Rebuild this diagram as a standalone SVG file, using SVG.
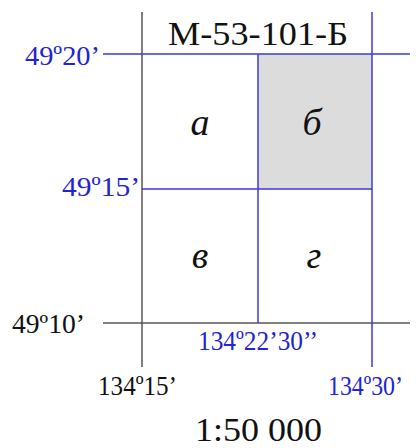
<svg xmlns="http://www.w3.org/2000/svg" width="416" height="448" viewBox="0 0 416 448">
<style>
text{font-family:"Liberation Serif","Times New Roman","DejaVu Serif",serif;}
.b{fill:#2323d0;}
.k{fill:#111;}
.bl{stroke:#3a3ae0;stroke-width:1.5;fill:none;}
.gl{stroke:#555;stroke-width:1.5;fill:none;}
.cell{font-style:italic;font-size:38px;fill:#111;text-anchor:middle;}
</style>
<rect width="416" height="448" fill="#fff"/>
<rect id="cell-b-fill" x="258" y="54" width="114" height="135" fill="#dcdcdc"/>
<g id="grid">
<line class="gl" x1="142" y1="12" x2="142" y2="367"/>
<line class="gl" x1="103" y1="323" x2="410" y2="323"/>
<line class="bl" x1="103" y1="54" x2="410" y2="54"/>
<line class="bl" x1="372" y1="12" x2="372" y2="367"/>
<line class="bl" x1="258" y1="54" x2="258" y2="323"/>
<line class="bl" x1="142" y1="189" x2="372" y2="189"/>
</g>
<g id="cell-a"><text class="cell" x="200" y="135">а</text></g>
<g id="cell-b"><text class="cell" x="312" y="135">б</text></g>
<g id="cell-v"><text class="cell" x="200" y="268">в</text></g>
<g id="cell-g"><text class="cell" x="314" y="268">г</text></g>
<g id="labels">
<text class="k" x="168" y="45" font-size="34" textLength="180" lengthAdjust="spacingAndGlyphs">М-53-101-Б</text>
<text class="b" x="25" y="65" font-size="28" textLength="75" lengthAdjust="spacingAndGlyphs">49º20’</text>
<text class="b" x="62" y="196" font-size="28" textLength="78" lengthAdjust="spacingAndGlyphs">49º15’</text>
<text class="k" x="12" y="333" font-size="27" textLength="73" lengthAdjust="spacingAndGlyphs">49º10’</text>
<text class="b" x="198" y="350" font-size="28" textLength="120" lengthAdjust="spacingAndGlyphs">134º22’30’’</text>
<text class="k" x="98" y="395" font-size="28" textLength="79" lengthAdjust="spacingAndGlyphs">134º15’</text>
<text class="b" x="328" y="395" font-size="28" textLength="75" lengthAdjust="spacingAndGlyphs">134º30’</text>
<text class="k" x="195" y="441" font-size="33" textLength="127" lengthAdjust="spacingAndGlyphs">1:50 000</text>
</g>
</svg>
